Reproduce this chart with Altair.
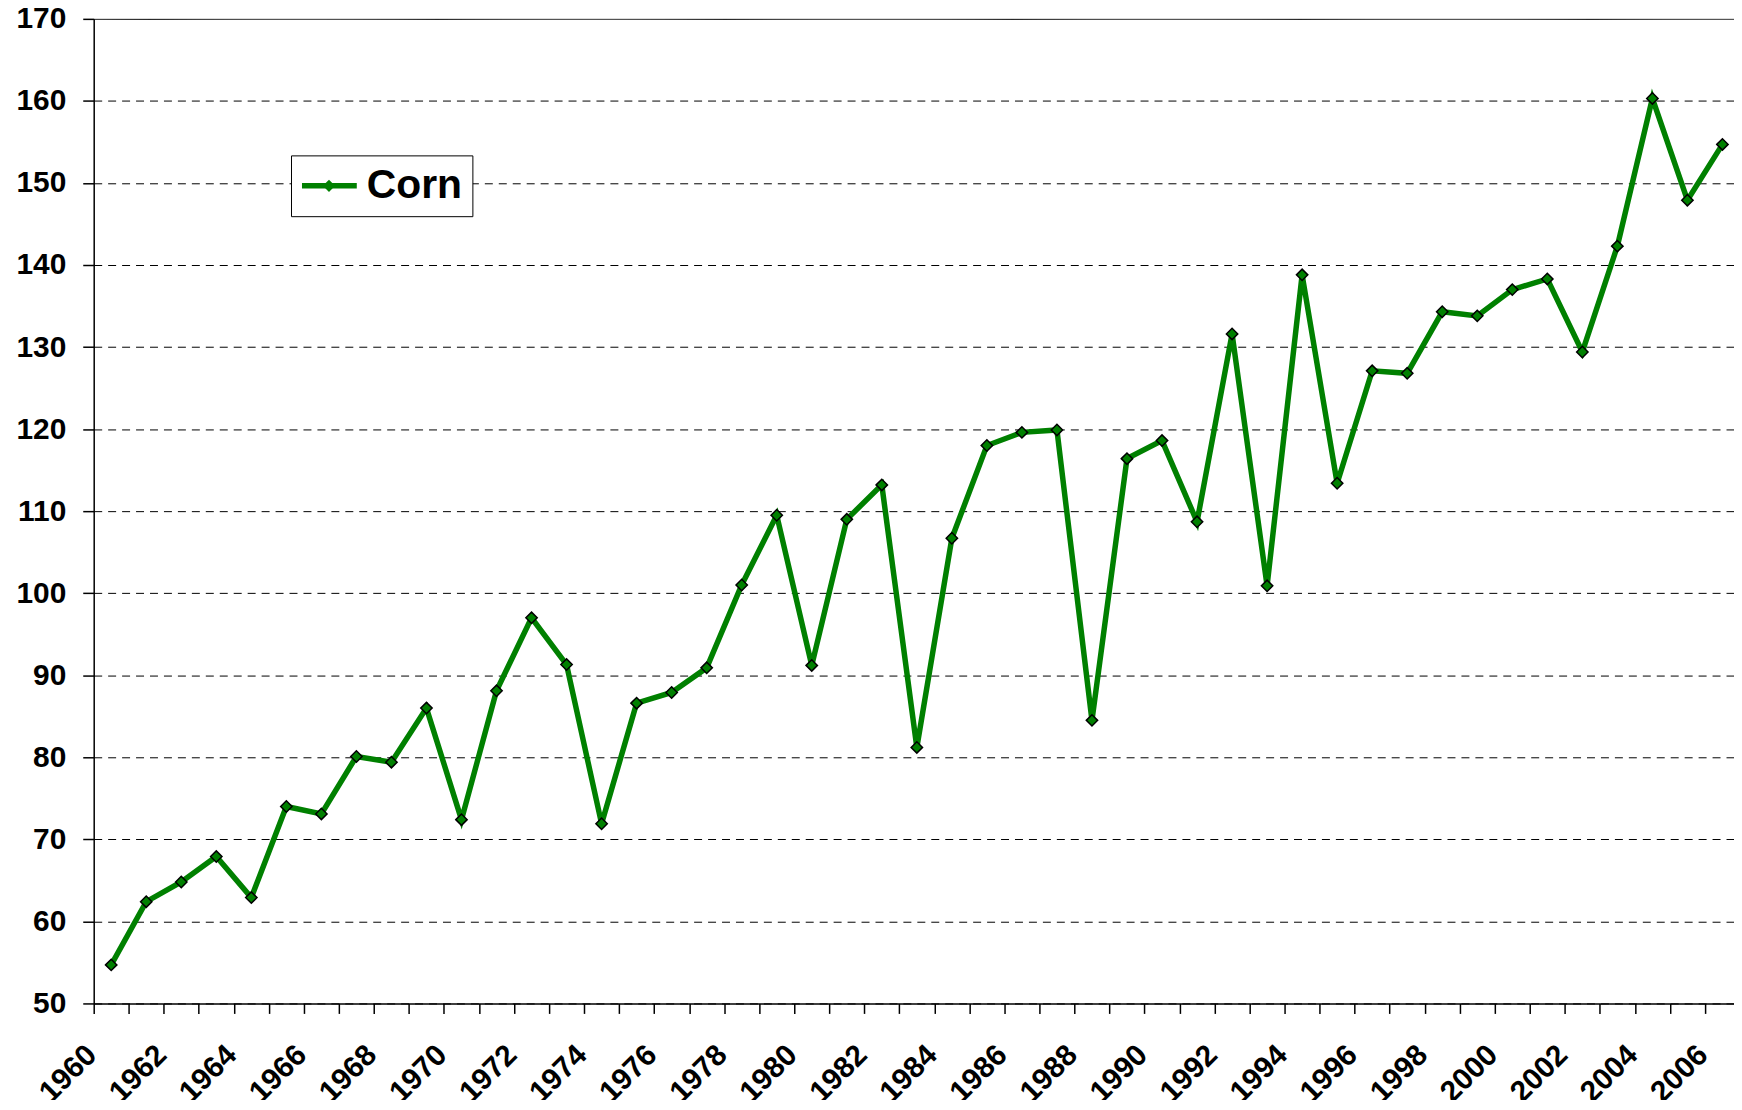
import altair as alt
import pandas as pd

# ---- data ----
years = list(range(1960, 2007))
yields = [54.7, 62.4, 64.8, 67.9, 62.9, 74.0, 73.1, 80.1, 79.4, 86.0,
          72.4, 88.1, 97.0, 91.3, 71.9, 86.6, 87.9, 90.9, 101.0, 109.5,
          91.2, 109.0, 113.2, 81.2, 106.7, 118.0, 119.6, 119.9, 84.5, 116.4,
          118.6, 108.7, 131.6, 100.9, 138.8, 113.4, 127.1, 126.8, 134.3, 133.8,
          137.0, 138.3, 129.4, 142.3, 160.3, 147.9, 154.7]
series_name = "Corn"
y_ticks = list(range(50, 171, 10))
x_tick_positions = [yr - 0.5 for yr in years]

df = pd.DataFrame({
    "year": years,
    "yield": yields,
    "series": [series_name] * len(years),
    "marker": [series_name] * len(years),
})

FONT = "Liberation Sans"
GREEN = "#008000"

x_enc = alt.X(
    "year:Q",
    scale=alt.Scale(domain=[1959.5, 2006.33], nice=False, zero=False),
    axis=alt.Axis(
        values=x_tick_positions,
        labelExpr="(datum.value + 0.5) % 2 == 0 ? toString(datum.value + 0.5) : ''",
        grid=False, title=None,
        labelAngle=-45, labelAlign="right", labelBaseline="top",
        labelFontSize=30, labelFont=FONT, labelFontWeight="bold", labelColor="black",
        labelPadding=26, labelOffset=-13,
        labelOverlap=False, labelFlush=False, labelBound=False,
        tickSize=10, tickColor="black", tickWidth=1.5,
        domainColor="black", domainWidth=1.5,
    ),
)

y_enc = alt.Y(
    "yield:Q",
    scale=alt.Scale(domain=[50, 170], nice=False, zero=False),
    axis=alt.Axis(
        values=y_ticks, title=None,
        grid=True, gridColor="black", gridWidth=1,
        gridDash={"condition": {"test": "datum.value >= 170", "value": [1, 0]}, "value": [8, 6]},
        labelFontSize=30, labelFont=FONT, labelFontWeight="bold", labelColor="black",
        labelPadding=17,
        tickSize=11, tickColor="black", tickWidth=1.5,
        domainColor="black", domainWidth=1.5,
    ),
)

base = alt.Chart(df)

line = base.mark_line(strokeWidth=5.5).encode(
    x=x_enc, y=y_enc,
    stroke=alt.Stroke(
        "series:N",
        scale=alt.Scale(range=[GREEN]),
        legend=alt.Legend(
            title=None, orient="none", legendX=198, legendY=137,
            strokeColor="black", fillColor="white", padding=10,
            symbolType="M-3,0H3", symbolStrokeWidth=5.5, symbolSize=336,
            symbolOffset=8,
            labelFontSize=41, labelFont=FONT, labelFontWeight="bold", labelColor="black",
            labelOffset=17,
        ),
    ),
)

points = base.mark_point(filled=True, fill=GREEN, stroke="black", strokeWidth=1.5,
                         size=130, opacity=1).encode(
    x=x_enc, y=y_enc,
    shape=alt.Shape(
        "marker:N",
        scale=alt.Scale(range=["diamond"]),
        legend=alt.Legend(
            title=None, orient="none", legendX=205.6, legendY=137,
            padding=10,
            symbolFillColor=GREEN, symbolStrokeColor="black", symbolStrokeWidth=1.5,
            symbolSize=150, symbolOpacity=1,
            labelFontSize=41, labelFont=FONT, labelFontWeight="bold",
            labelOpacity=0,
        ),
    ),
)

chart = alt.layer(line, points).properties(
    width=1646, height=988,
    autosize=alt.AutoSizeParams(type="none"),
    padding={"left": 86, "top": 9, "right": 0, "bottom": 95},
    background="white",
).configure_view(stroke=None)

chart.save("out.html", embed_options={"renderer": "svg", "actions": False})
